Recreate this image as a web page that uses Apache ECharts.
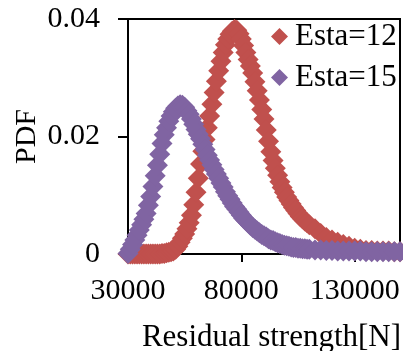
<!DOCTYPE html>
<html><head><meta charset="utf-8">
<script src="https://cdn.jsdelivr.net/npm/echarts@6/dist/echarts.min.js"></script>
<style>html,body{margin:0;padding:0;background:#fff}#c{width:403px;height:351px}</style>
</head><body><div id="c"></div>
<script>
var strength = [
  30000,31000,32000,33000,34000,35000,36000,37000,38000,39000,
  40000,41000,42000,43000,44000,45000,46000,47000,48000,49000,
  50000,51000,52000,53000,54000,55000,56000,57000,58000,59000,
  60000,61000,62000,63000,64000,65000,66000,67000,68000,69000,
  70000,71000,72000,73000,74000,75000,76000,77000,78000,79000,
  80000,81000,82000,83000,84000,85000,86000,87000,88000,89000,
  90000,91000,92000,93000,94000,95000,96000,97000,98000,99000,
  100000,101000,102000,103000,104000,105000,106000,107000,108000,109000,
  110000,
  112500,115000,117500,120000,122500,125000,127500,130000,132500,135000,137500,140000,142500,145000,147500,150000];
var esta12 = [
  0,0,0,0,0,0,0,0,0,0,
  0,0,0,0,0,0.0001,0.0001,0.0002,0.0003,0.0004,
  0.0005,0.0008,0.0013,0.0020,0.0027,0.0034,0.0043,0.0053,0.0066,0.0084,
  0.0105,0.0129,0.0153,0.0175,0.0195,0.0215,0.0235,0.0255,0.0275,0.0294,
  0.0312,0.0328,0.0343,0.0356,0.0366,0.0374,0.0379,0.0382,0.0381,0.0375,
  0.0366,0.0355,0.0343,0.0331,0.0320,0.0308,0.0293,0.0278,0.0262,0.0246,
  0.0230,0.0211,0.0192,0.0174,0.0159,0.0146,0.0134,0.0123,0.0113,0.0105,
  0.0097,0.0091,0.0085,0.0079,0.0074,0.0069,0.0064,0.0060,0.0056,0.0053,
  0.0050,
  0.0043,0.0035,0.0028,0.0024,0.0020,0.0016,0.0013,0.0010,0.0008,0.0006,0.0006,0.0005,0.0005,0.0005,0.0004,0.0004];
var esta15 = [
  0.0001,0.0008,0.0016,0.0024,0.0032,0.0041,0.0050,0.0059,0.0069,0.0083,
  0.0098,0.0115,0.0133,0.0151,0.0170,0.0188,0.0203,0.0215,0.0226,0.0235,
  0.0242,0.0248,0.0252,0.0254,0.0253,0.0250,0.0244,0.0238,0.0230,0.0221,
  0.0212,0.0204,0.0196,0.0187,0.0178,0.0168,0.0160,0.0152,0.0144,0.0136,
  0.0129,0.0121,0.0114,0.0106,0.0099,0.0093,0.0087,0.0081,0.0076,0.0071,
  0.0066,0.0061,0.0057,0.0053,0.0049,0.0045,0.0042,0.0039,0.0036,0.0033,
  0.0031,0.0029,0.0026,0.0024,0.0023,0.0021,0.0019,0.0018,0.0016,0.0015,
  0.0014,0.0013,0.0012,0.0011,0.0011,0.0010,0.0010,0.0009,0.0009,0.0008,
  0.0008,
  0.0007,0.0007,0.0006,0.0006,0.0005,0.0005,0.0005,0.0005,0.0005,0.0004,0.0004,0.0004,0.0004,0.0004,0.0004,0.0004];
var xTicks = [30000, 80000, 130000];
var seriesNames = ['Esta=12', 'Esta=15'];
var colors = ['#C0504D', '#8064A2'];

function pairs(xs, ys){ return xs.map(function(x,i){ return [x, ys[i]]; }); }
var font = "'Liberation Serif','Times New Roman',serif";
var chart = echarts.init(document.getElementById('c'), null, {renderer:'canvas'});
chart.setOption({
  animation:false,
  backgroundColor:'#fff',
  textStyle:{fontFamily:font},
  grid:{left:128, top:19, right:3, bottom:97, show:true, borderColor:'#000', borderWidth:2,
        backgroundColor:'transparent', containLabel:false, outerBoundsMode:'none'},
  legend:{
    orient:'vertical', left:271, top:21, padding:0, itemGap:10,
    itemWidth:17, itemHeight:17, icon:'diamond',
    textStyle:{fontFamily:font, fontSize:31, color:'#000', padding:[0,0,0,2]},
    data:seriesNames
  },
  xAxis:{
    type:'value', min:30000, max:150000,
    name:'Residual strength[N]', nameLocation:'middle', nameGap:68, nameMoveOverlap:false,
    nameTextStyle:{fontFamily:font, fontSize:31, color:'#000', padding:[0,0,0,15]},
    axisLine:{show:true, onZero:false, lineStyle:{color:'#000', width:2}},
    axisTick:{show:true, length:8, customValues:xTicks, lineStyle:{color:'#000', width:2}},
    axisLabel:{customValues:xTicks, showMinLabel:true, showMaxLabel:true, hideOverlap:false,
      fontFamily:font, fontSize:30, color:'#000', margin:22,
      formatter:function(v){ return String(v); }},
    splitLine:{show:false}
  },
  yAxis:{
    type:'value', min:0, max:0.04, interval:0.02,
    name:'PDF', nameLocation:'middle', nameGap:86, nameMoveOverlap:false,
    nameTextStyle:{fontFamily:font, fontSize:30, color:'#000'},
    axisLine:{show:true, lineStyle:{color:'#000', width:2}},
    axisTick:{show:true, length:10, lineStyle:{color:'#000', width:2}},
    axisLabel:{fontFamily:font, fontSize:30, color:'#000', margin:28,
      formatter:function(v){ return String(v); }},
    splitLine:{show:false}
  },
  series:[
    {name:seriesNames[0], type:'scatter', symbol:'diamond', symbolSize:21, clip:false,
     itemStyle:{color:colors[0], opacity:1}, data:pairs(strength, esta12)},
    {name:seriesNames[1], type:'scatter', symbol:'diamond', symbolSize:21, clip:false,
     itemStyle:{color:colors[1], opacity:1}, data:pairs(strength, esta15)}
  ]
});
</script></body></html>
